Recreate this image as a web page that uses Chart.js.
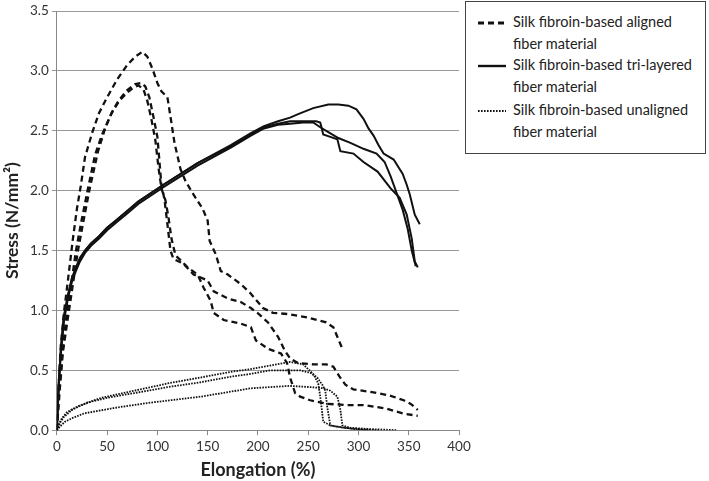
<!DOCTYPE html>
<html>
<head>
<meta charset="utf-8">
<script src="https://cdn.jsdelivr.net/npm/chart.js@4.4.1/dist/chart.umd.min.js"></script>
<style>
  body { margin: 0; background: #fff; font-family: Lato, sans-serif; }
  #wrap { position: relative; width: 709px; height: 481px; }
  #legend {
    position: absolute; left: 465px; top: 1px; width: 241px; height: 153px;
    border: 1px solid #444; box-sizing: border-box; background: #fff;
    font-size: 14.5px; color: #222; line-height: 22px;
  }
  .item { position: absolute; left: 12px; }
  .item svg { position: absolute; left: 0; top: 10px; }
  .item span { position: absolute; left: 35px; top: 0; white-space: nowrap; }
</style>
</head>
<body>
<div id="wrap">
  <canvas id="stressChart"></canvas>
  <div id="legend"></div>
</div>
<script>
// tick labels
const xTicks = [0, 50, 100, 150, 200, 250, 300, 350, 400];
const yTicks = [0, 0.5, 1.0, 1.5, 2.0, 2.5, 3.0, 3.5];

// legend names
const seriesNames = [
  ['Silk fibroin-based aligned', 'fiber material'],
  ['Silk fibroin-based tri-layered', 'fiber material'],
  ['Silk fibroin-based unaligned', 'fiber material']
];

// aligned fiber samples (dashed), [elongation %, stress N/mm2]
const aligned1 = [[0,0],[2,0.4],[4,0.72],[7,0.98],[11,1.25],[16,1.6],[20,1.85],[24,2.05],[28,2.28],[35,2.48],[42,2.65],[50,2.78],[60,2.93],[70,3.05],[78,3.12],[85,3.16],[90,3.12],[95,3.02],[100,2.9],[104,2.83],[110,2.78],[113,2.62],[117,2.4],[123,2.18],[128,2.08],[135,1.98],[145,1.85],[150,1.75],[152,1.58],[158,1.47],[163,1.33],[170,1.3],[183,1.22],[193,1.14],[205,1.02],[215,0.98],[230,0.97],[250,0.94],[268,0.9],[275,0.86],[280,0.76],[284,0.68]];
const aligned2 = [[0,0],[3,0.35],[6,0.65],[11,0.94],[16,1.22],[21,1.5],[27,1.77],[33,2.03],[41,2.33],[48,2.52],[55,2.66],[62,2.76],[70,2.84],[78,2.89],[84,2.9],[88,2.87],[92,2.78],[96,2.62],[100,2.45],[102,2.25],[104,2.05],[107,1.93],[110,1.72],[113,1.5],[116,1.43],[126,1.39],[136,1.3],[150,1.25],[156,1.16],[170,1.1],[183,1.07],[193,1.02],[201,0.97],[210,0.9],[220,0.78],[227,0.66],[232,0.6],[240,0.56],[255,0.55],[268,0.55],[275,0.53],[281,0.45],[287,0.38],[295,0.34],[312,0.32],[331,0.29],[345,0.25],[352,0.22],[359,0.17]];
const aligned3 = [[0,0],[2,0.3],[5,0.6],[9,0.92],[14,1.2],[19,1.5],[25,1.77],[31,2.02],[38,2.3],[45,2.47],[54,2.64],[62,2.75],[70,2.82],[76,2.86],[81,2.88],[86,2.85],[90,2.75],[94,2.6],[98,2.42],[101,2.2],[104,2.02],[108,1.92],[111,1.78],[114,1.6],[118,1.46],[123,1.42],[130,1.36],[140,1.3],[146,1.19],[153,1.08],[156,0.98],[166,0.92],[183,0.89],[193,0.86],[198,0.75],[210,0.68],[223,0.64],[229,0.56],[232,0.44],[237,0.31],[242,0.28],[252,0.25],[269,0.22],[289,0.21],[305,0.21],[328,0.18],[344,0.14],[359,0.12]];

// tri-layered samples (solid)
const trilayer1 = [[0,0],[1,0.22],[2,0.42],[4,0.68],[7,0.95],[11,1.13],[15,1.27],[19,1.36],[23,1.44],[28,1.5],[34,1.56],[42,1.62],[50,1.69],[60,1.76],[70,1.83],[81,1.91],[106,2.05],[140,2.23],[173,2.38],[193,2.48],[206,2.54],[220,2.58],[232,2.61],[240,2.64],[255,2.69],[270,2.72],[280,2.72],[290,2.71],[298,2.68],[305,2.6],[310,2.52],[315,2.46],[320,2.38],[325,2.31],[335,2.26],[344,2.14],[348,2.05],[351,1.97],[356,1.8],[361,1.72]];
const trilayer2 = [[0,0],[1,0.21],[2,0.41],[4,0.67],[7,0.94],[11,1.12],[15,1.26],[19,1.35],[23,1.43],[28,1.5],[34,1.56],[42,1.62],[50,1.69],[60,1.76],[70,1.83],[81,1.91],[106,2.05],[140,2.23],[173,2.37],[193,2.47],[206,2.53],[220,2.56],[232,2.58],[245,2.58],[258,2.58],[262,2.57],[265,2.47],[272,2.45],[279,2.43],[282,2.33],[295,2.31],[305,2.24],[319,2.16],[332,2.02],[341,1.94],[348,1.8],[353,1.6],[356,1.41],[359,1.36]];
const trilayer3 = [[0,0],[1,0.19],[2,0.38],[4,0.64],[7,0.91],[11,1.1],[15,1.24],[19,1.33],[23,1.41],[28,1.48],[34,1.54],[42,1.6],[50,1.67],[60,1.74],[70,1.81],[81,1.89],[106,2.03],[140,2.21],[173,2.36],[193,2.46],[206,2.52],[220,2.55],[232,2.56],[245,2.57],[255,2.57],[262,2.53],[270,2.49],[280,2.44],[292,2.4],[305,2.35],[318,2.31],[326,2.24],[332,2.12],[338,1.98],[344,1.84],[349,1.68],[353,1.5],[357,1.37]];

// unaligned samples (dotted)
const unaligned1 = [[0,0],[2,0.05],[5,0.1],[10,0.15],[21,0.2],[44,0.27],[77,0.33],[110,0.39],[143,0.44],[175,0.49],[193,0.51],[212,0.54],[232,0.57],[245,0.55],[255,0.47],[260,0.39],[262,0.28],[264,0.14],[265,0.07],[272,0.04],[279,0.03],[295,0.01],[310,0]];
const unaligned2 = [[0,0],[3,0.06],[7,0.11],[15,0.17],[30,0.23],[50,0.27],[77,0.31],[110,0.36],[143,0.4],[175,0.45],[193,0.47],[212,0.5],[242,0.5],[252,0.48],[259,0.44],[264,0.38],[267,0.33],[269,0.19],[272,0.04],[285,0.02],[300,0.01],[320,0]];
const unaligned3 = [[0,0],[3,0.03],[8,0.07],[15,0.1],[27,0.14],[60,0.19],[93,0.23],[143,0.28],[193,0.35],[212,0.36],[232,0.37],[252,0.36],[265,0.35],[272,0.33],[279,0.28],[282,0.17],[284,0.04],[292,0.02],[310,0.01],[338,0]];

const styles = {
  aligned: { borderWidth: 2.3, borderDash: [6, 4] },
  trilayer: { borderWidth: 2, borderDash: [] },
  unaligned: { borderWidth: 1.8, borderDash: [1.6, 1.2] }
};

function makeSet(points, kind) {
  return {
    data: points.map(p => ({ x: p[0], y: p[1] })),
    borderColor: '#111',
    borderWidth: styles[kind].borderWidth,
    borderDash: styles[kind].borderDash,
    pointRadius: 0,
    fill: false,
    tension: 0
  };
}

const ctx = document.getElementById('stressChart').getContext('2d');
const stressChart = new Chart(ctx, {
  type: 'line',
  data: {
    datasets: [
      makeSet(aligned1, 'aligned'), makeSet(aligned2, 'aligned'), makeSet(aligned3, 'aligned'),
      makeSet(trilayer1, 'trilayer'), makeSet(trilayer2, 'trilayer'), makeSet(trilayer3, 'trilayer'),
      makeSet(unaligned1, 'unaligned'), makeSet(unaligned2, 'unaligned'), makeSet(unaligned3, 'unaligned')
    ]
  },
  options: {
    responsive: true,
    maintainAspectRatio: false,
    animation: false,
    layout: { padding: { left: 2, right: 250, top: 0, bottom: 0 } },
    plugins: { legend: { display: false }, tooltip: { enabled: false } },
    scales: {
      x: {
        type: 'linear',
        min: 0, max: 400,
        afterBuildTicks: axis => { axis.ticks = xTicks.map(v => ({ value: v })); },
        ticks: { color: '#333', font: { family: 'Lato', size: 13.5 }, padding: 3 },
        grid: { drawOnChartArea: false, drawTicks: true, tickLength: 5, color: '#888' },
        border: { color: '#888' },
        title: { display: true, text: 'Elongation (%)', color: '#222', font: { family: 'Lato', size: 18, weight: 'bold' }, padding: { top: 2, bottom: 0 } }
      },
      y: {
        min: 0, max: 3.5,
        afterBuildTicks: axis => { axis.ticks = yTicks.map(v => ({ value: v })); },
        ticks: { color: '#333', font: { family: 'Lato', size: 13.5 }, padding: 3, callback: v => v.toFixed(1) },
        grid: { color: '#999', tickLength: 5 },
        border: { color: '#888' },
        title: { display: true, text: 'Stress (N/mm²)', color: '#222', font: { family: 'Lato', size: 17.5, weight: 'bold' }, padding: { top: 0, bottom: 4 } }
      }
    }
  }
});

// legend drawn as html text next to the chart
const legendDashes = ['6,4', '', '1.6,1.4'];
const legendWidths = [3, 2.4, 2];
const legendTops = [9, 52, 97];
const legend = document.getElementById('legend');
seriesNames.forEach((name, i) => {
  const item = document.createElement('div');
  item.className = 'item';
  item.style.top = legendTops[i] + 'px';
  item.innerHTML =
    '<svg width="28" height="4"><line x1="0" y1="2" x2="28" y2="2" stroke="#111" stroke-width="' +
    legendWidths[i] + '" stroke-dasharray="' + legendDashes[i] + '"/></svg>' +
    '<span>' + name[0] + '<br>' + name[1] + '</span>';
  legend.appendChild(item);
});
</script>
</body>
</html>
